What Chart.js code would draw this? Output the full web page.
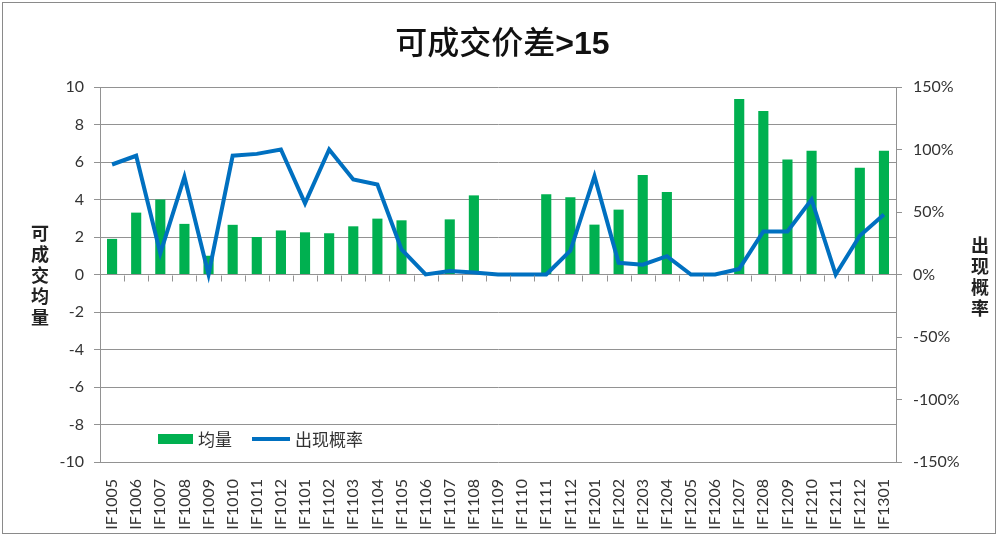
<!DOCTYPE html>
<html>
<head>
<meta charset="utf-8">
<script src="https://cdn.jsdelivr.net/npm/chart.js@4.4.0/dist/chart.umd.min.js"></script>
<style>
  body { margin: 0; background: #fff; }
  #wrap { position: relative; width: 1005px; height: 537px; font-family: "Noto Sans CJK SC", sans-serif; }
  #frame { position: absolute; left: 2px; top: 2px; width: 994px; height: 532px; border: 1px solid #8a8a8a; box-sizing: border-box; }
  canvas { position: absolute; left: 0; top: 0; }
  #title { position: absolute; left: 0; width: 1005px; top: 17px; text-align: center; font-size: 32px; font-weight: 500; color: #111; }
  .ytitle { position: absolute; width: 24px; text-align: center; font-size: 18px; font-weight: bold; line-height: 21px; color: #222; }
  #legend { position: absolute; left: 158px; top: 426px; font-size: 17px; color: #333; display: flex; align-items: center; }
  .sw { display: inline-block; }
</style>
</head>
<body>
<div id="wrap">
  <div id="frame"></div>
  <canvas id="chart" width="1005" height="537"></canvas>
  <div id="title">可成交价差<span style="font-family: 'Liberation Sans', sans-serif; font-weight: bold;">&gt;15</span></div>
  <div class="ytitle" style="left:28px; top:222px;">可<br>成<br>交<br>均<br>量</div>
  <div class="ytitle" style="left:968px; top:234px;">出<br>现<br>概<br>率</div>
  <div id="legend">
    <span class="sw" style="width:35px; height:10px; background:#00B050;"></span>
    <span style="margin-left:5px;">均量</span>
    <span class="sw" style="width:38px; height:4px; background:#0070C0; margin-left:20px;"></span>
    <span style="margin-left:5px;">出现概率</span>
  </div>
</div>
<script>
const labels = ["IF1005","IF1006","IF1007","IF1008","IF1009","IF1010","IF1011","IF1012",
  "IF1101","IF1102","IF1103","IF1104","IF1105","IF1106","IF1107","IF1108","IF1109","IF1110",
  "IF1111","IF1112","IF1201","IF1202","IF1203","IF1204","IF1205","IF1206","IF1207","IF1208",
  "IF1209","IF1210","IF1211","IF1212","IF1301"];

// 均量 (left axis)
const junliang = [1.9, 3.3, 4.0, 2.7, 1.0, 2.65, 2.0, 2.35,
  2.25, 2.2, 2.57, 2.98, 2.89, null, 2.94, 4.22, null, null,
  4.28, 4.12, 2.66, 3.46, 5.31, 4.4, null, null, 9.36, 8.72,
  6.13, 6.6, null, 5.7, 6.6];

// 出现概率 (right axis, fraction)
const gailv = [0.88, 0.95, 0.17, 0.78, 0.0, 0.95, 0.965, 1.0,
  0.57, 1.0, 0.76, 0.72, 0.2, 0.0, 0.027, 0.016, 0.0, 0.0,
  0.0, 0.19, 0.786, 0.094, 0.078, 0.147, 0.0, 0.0, 0.045, 0.345,
  0.345, 0.6, 0.0, 0.31, 0.48];

const gridColor = "#929292";
const tickFont = { family: "Lato, 'Liberation Sans', sans-serif", size: 16 };

// short tick marks along the zero line between categories
const zeroTicks = {
  id: "zeroTicks",
  afterDatasetsDraw(chart) {
    const x = chart.scales.x, y = chart.scales.y;
    const ctx = chart.ctx;
    const y0 = Math.round(y.getPixelForValue(0)) + 0.5;
    ctx.save();
    ctx.strokeStyle = gridColor;
    ctx.lineWidth = 1;
    ctx.beginPath();
    for (let i = 0; i <= labels.length; i++) {
      const px = Math.round(x.left + (x.right - x.left) * i / labels.length) + 0.5;
      ctx.moveTo(px, y0);
      ctx.lineTo(px, y0 + 6);
    }
    ctx.stroke();
    ctx.restore();
  }
};

const chart = new Chart(document.getElementById("chart"), {
  type: "bar",
  data: {
    labels: labels,
    datasets: [
      {
        type: "line",
        label: "出现概率",
        data: gailv,
        yAxisID: "y1",
        borderColor: "#0070C0",
        backgroundColor: "#0070C0",
        borderWidth: 4,
        pointRadius: 0,
        tension: 0,
        order: 0
      },
      {
        type: "bar",
        label: "均量",
        data: junliang,
        yAxisID: "y",
        backgroundColor: "#00B050",
        barPercentage: 0.42,
        categoryPercentage: 1,
        order: 1
      }
    ]
  },
  options: {
    responsive: false,
    animation: false,
    layout: { padding: { top: 87, left: 0, right: 0, bottom: 0 } },
    plugins: {
      legend: { display: false },
      title: { display: false },
      tooltip: { enabled: false }
    },
    scales: {
      x: {
        grid: { display: false },
        border: { display: false },
        ticks: {
          minRotation: 90, maxRotation: 90, autoSkip: false,
          padding: 9, color: "#333",
          font: { family: "Lato, 'Liberation Sans', sans-serif", size: 16 }
        },
        afterFit: s => { s.height = 75; }
      },
      y: {
        position: "left",
        min: -10, max: 10,
        ticks: { stepSize: 2, padding: 10, color: "#333", font: tickFont },
        grid: { color: gridColor, tickLength: 6, tickColor: gridColor },
        border: { display: true, color: gridColor },
        afterFit: s => { s.width = 100; }
      },
      y1: {
        position: "right",
        min: -1.5, max: 1.5,
        ticks: {
          stepSize: 0.5, padding: 11, color: "#333", font: tickFont,
          callback: v => Math.round(v * 100) + "%"
        },
        grid: { drawOnChartArea: false, tickLength: 6, color: gridColor },
        border: { display: true, color: gridColor },
        afterFit: s => { s.width = 109; }
      }
    }
  },
  plugins: [zeroTicks]
});
</script>
</body>
</html>
